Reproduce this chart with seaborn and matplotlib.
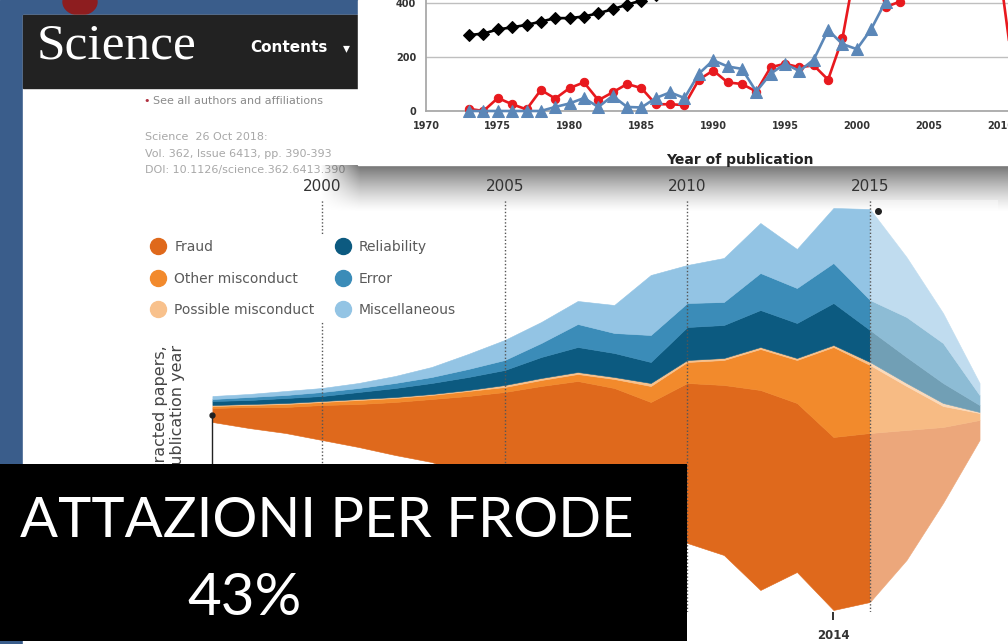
import numpy as np
import matplotlib.pyplot as plt
import seaborn as sns
from matplotlib.patches import Rectangle, Ellipse
from matplotlib.lines import Line2D

# ===========================
# DATA - streamgraph (retracted papers, by publication year)
# ===========================
YEARS = list(range(1997, 2019))
OFFSET = [190, 184, 179, 172, 165, 157, 150, 137, 124, 112, 100, 90, 79, 69, 57, 22, 40, 2, 10, 52, 109, 172]
FRAUD = [14, 21, 26, 35, 43, 53, 63, 79, 96, 114, 131, 134, 131, 160, 170, 200, 169, 173, 169, 130, 76, 20]
OTHER = [2, 2, 3, 3, 4, 4, 4, 5, 5, 6, 7, 9, 16, 21, 25, 41, 43, 90, 68, 44, 21, 7]
POSSIBLE = [1, 1, 1, 1, 1, 1, 1, 1, 2, 2, 2, 2, 3, 2, 2, 2, 2, 2, 3, 3, 3, 1]
RELIABILITY = [4, 4, 5, 5, 7, 9, 11, 13, 15, 21, 25, 24, 21, 33, 33, 37, 35, 42, 32, 26, 20, 7]
ERROR = [2, 3, 3, 4, 4, 5, 6, 8, 10, 14, 23, 20, 27, 24, 23, 37, 35, 40, 30, 40, 40, 10]
MISC = [3, 3, 4, 4, 5, 7, 10, 15, 20, 21, 23, 28, 60, 38, 44, 50, 39, 55, 91, 60, 30, 12]

STREAM_LABELS = ["Fraud", "Other misconduct", "Possible misconduct",
                 "Reliability", "Error", "Miscellaneous"]
STREAM_COLORS = ["#df691c", "#f28a2c", "#f8c18c", "#0c5a80", "#3b8cb8", "#93c4e4"]
YEAR_MARKS = [2000, 2005, 2010, 2015]
FADE_FROM = 2015
PEAK_YEAR = 2014

# ===========================
# DATA - inset line chart
# ===========================
PUB_YEARS = list(range(1973, 1987))
PUBS = [281, 287, 302, 310, 319, 331, 344, 344, 350, 362, 377, 394, 409, 430]

RED_YEARS = list(range(1973, 2005)) + [2010, 2011]
RED = [8, 0, 48, 25, 6, 78, 46, 85, 106, 40, 69, 100, 85, 25, 25, 22, 116, 150,
       106, 100, 72, 162, 175, 162, 169, 116, 269, 560, 600, 385, 405, 520, 500, 100]

BLUE_YEARS = list(range(1973, 2004))
BLUE = [0, 0, 0, 0, 0, 0, 15, 28, 48, 15, 56, 15, 13, 48, 69, 48, 138, 188,
        165, 156, 72, 138, 175, 148, 190, 300, 248, 229, 303, 405, 470]

# ===========================
# LAYOUT
# ===========================
W, H = 1008, 644
BLUE_BG = "#3a5d8b"

sns.set_theme(style="white")
plt.rcParams["font.family"] = ["DejaVu Sans"]

fig = plt.figure(figsize=(W / 100, H / 100), dpi=100)


def fx(px):
    return px / W


def fy(py):
    return 1 - py / H


# --- background (photo of slide / web page), pixel coordinates
bg = fig.add_axes([0, 0, 1, 1], zorder=0)
bg.add_patch(Rectangle((0, 0), W, H, color=BLUE_BG, zorder=0))
bg.add_patch(Ellipse((80, 2), 34, 26, color="#8d1d1f", zorder=0.5))
bg.add_patch(Rectangle((23, 15), W - 23, H - 15, color="white", zorder=1))
bg.add_patch(Rectangle((23, 15), 420, 73, color="#222222", zorder=1.2))
bg.add_patch(Rectangle((358, 0), W - 358, 165, color="white", zorder=3))

# shadow under the inset
sh_h, sh_x0 = 48, 320
yy = np.linspace(0, 1, sh_h)[:, None]
xx = np.arange(W - sh_x0)[None, :]
shadow = np.zeros((sh_h, W - sh_x0, 4))
shadow[..., 3] = 0.55 * (1 - yy) ** 1.3 * np.clip(xx / 40, 0, 1)
bg.imshow(shadow, extent=(sh_x0, W, 165 + sh_h, 165), aspect="auto",
          interpolation="bilinear", zorder=2.5)

bg.text(37, 58, "Science", family="Liberation Serif", size=37, color="white",
        va="baseline", zorder=4)
bg.text(250, 47, "Contents", weight="bold", size=11, color="white", va="center", zorder=4)
bg.text(343, 48, "▾", size=10, color="white", va="center", zorder=4)

bg.text(143, 101, "•", color="#b03040", size=8, va="center", zorder=2)
bg.text(153, 101, "See all authors and affiliations", color="#8a8a8a", size=8,
        va="center", zorder=2)
bg.text(145, 137, "Science  26 Oct 2018:", color="#a8a8a8", size=8, va="center", zorder=2)
bg.text(145, 154, "Vol. 362, Issue 6413, pp. 390-393", color="#a8a8a8", size=8,
        va="center", zorder=2)
bg.text(145, 170, "DOI: 10.1126/science.362.6413.390", color="#a8a8a8", size=8,
        va="center", zorder=2)

bg.text(169, 345, "Retracted papers,\nby publication year", rotation=90,
        ha="center", va="top", multialignment="right", size=11.5, color="#444444",
        linespacing=1.15, zorder=2)

bg.set_xlim(0, W)
bg.set_ylim(H, 0)
bg.axis("off")

# ===========================
# STREAMGRAPH
# ===========================
PX_YEAR = 36.53
ax = fig.add_axes([fx(150), fy(612), fx(W - 150), (612 - 200) / H], zorder=1)
ax.set_facecolor("none")

layers = [FRAUD, OTHER, POSSIBLE, RELIABILITY, ERROR, MISC]
polys = ax.stackplot(YEARS, OFFSET, *layers, colors=["none"] + STREAM_COLORS, linewidth=0)
for poly, col in zip(polys[1:], STREAM_COLORS):
    poly.set_edgecolor(col)
    poly.set_linewidth(0.4)

# later years are shown faded
ax.axvspan(FADE_FROM, YEARS[-1] + 0.5, color="white", alpha=0.42, lw=0, zorder=2)

for yr in YEAR_MARKS:
    ax.axvline(yr, color="#555555", lw=1, ls=(0, (1, 1.5)), zorder=3)

# start marker and end-of-data marker
y_start = OFFSET[0] + FRAUD[0] / 2
ax.plot([YEARS[0], YEARS[0]], [0, y_start], color="#222222", lw=1, zorder=4)
ax.plot(YEARS[0], y_start, "o", ms=3.5, color="#222222", zorder=4)
i15 = YEARS.index(FADE_FROM)
top15 = OFFSET[i15] + sum(l[i15] for l in layers)
ax.plot(FADE_FROM + 0.22, top15 - 2, "o", ms=4, color="#222222", zorder=4)

ax.set_xlim(2000 - 172 / PX_YEAR, 2000 + (W - 322) / PX_YEAR)
ax.set_ylim(0, 412)
for s in ax.spines.values():
    s.set_visible(False)
ax.set_yticks([])
ax.xaxis.tick_top()
ax.set_xticks(YEAR_MARKS)
ax.tick_params(axis="x", length=0, pad=4, labelsize=11, labelcolor="#333333")

sec = ax.secondary_xaxis("bottom")
sec.set_xticks([PEAK_YEAR])
sec.set_xticklabels([str(PEAK_YEAR)], fontweight="bold", color="#333333")
sec.tick_params(length=6, width=1.3, color="#222222", pad=6, labelsize=8.5)
sec.spines["bottom"].set_visible(False)

handles = [Line2D([], [], ls="", marker="o", ms=11.5, color=c, mec=c) for c in STREAM_COLORS]
leg = ax.legend(handles, STREAM_LABELS, ncol=2, loc="upper left",
                bbox_to_anchor=(fx(148), fy(236)), bbox_transform=fig.transFigure,
                frameon=True, fancybox=False, facecolor="white", edgecolor="none",
                framealpha=1, fontsize=10, labelcolor="#5a5a5a",
                handlelength=0.9, handletextpad=0.7, labelspacing=1.25,
                columnspacing=1.6, borderpad=0.3, borderaxespad=0)
leg.set_zorder(5)

# ===========================
# INSET LINE CHART
# ===========================
ax_in = fig.add_axes([fx(426), fy(111), fx(W - 426), 111 / H], zorder=2)
ax_in.set_facecolor("none")

sns.lineplot(x=PUB_YEARS, y=PUBS, ax=ax_in, color="black", marker="D", markersize=6,
             markeredgecolor="black", linewidth=1.9, errorbar=None, clip_on=False, zorder=3)
sns.lineplot(x=RED_YEARS, y=RED, ax=ax_in, color="#e8191e", marker="o", markersize=6,
             markeredgecolor="#e8191e", linewidth=1.9, errorbar=None, clip_on=False, zorder=4)
sns.lineplot(x=BLUE_YEARS, y=BLUE, ax=ax_in, color="#5b87b8", marker="^", markersize=8.5,
             markeredgecolor="#5b87b8", linewidth=1.9, errorbar=None, clip_on=False, zorder=5)

ax_in.set_xlim(1970, 1970 + (W - 426) / 14.36)
ax_in.set_ylim(0, 111 / 54 * 200)
ax_in.set_xticks(range(1970, 2015, 5))
ax_in.set_yticks([0, 200, 400])
ax_in.yaxis.grid(True, color="#bfbfbf", lw=1)
ax_in.set_axisbelow(True)
for side in ["top", "right"]:
    ax_in.spines[side].set_visible(False)
for side in ["left", "bottom"]:
    ax_in.spines[side].set_color("#a6a6a6")
ax_in.tick_params(axis="x", length=3.5, color="#a6a6a6", pad=4, labelsize=7, labelcolor="#333333")
ax_in.tick_params(axis="y", length=0, pad=7, labelsize=7, labelcolor="#333333")
for lbl in ax_in.get_xticklabels() + ax_in.get_yticklabels():
    lbl.set_fontweight("bold")
ax_in.set_ylabel("")
ax_in.set_xlabel("Year of publication", fontsize=10, fontweight="bold", color="#222222")
ax_in.xaxis.set_label_coords((740 - 426) / (W - 426), -0.38)

# ===========================
# BANNER
# ===========================
bn = fig.add_axes([0, fy(641), fx(687), (641 - 464) / H], zorder=3)
bn.set_facecolor("black")
bn.set_xlim(0, 687)
bn.set_ylim(641, 464)
bn.set_xticks([])
bn.set_yticks([])
for s in bn.spines.values():
    s.set_visible(False)
bn.text(634, 537, "ATTAZIONI PER FRODE", ha="right", va="baseline", color="white",
        size=40.5, family="Lato", weight="normal")
bn.text(245, 615, "43%", ha="center", va="baseline", color="white",
        size=42, family="Lato", weight="normal")

fig.savefig("out.png", dpi=100)
